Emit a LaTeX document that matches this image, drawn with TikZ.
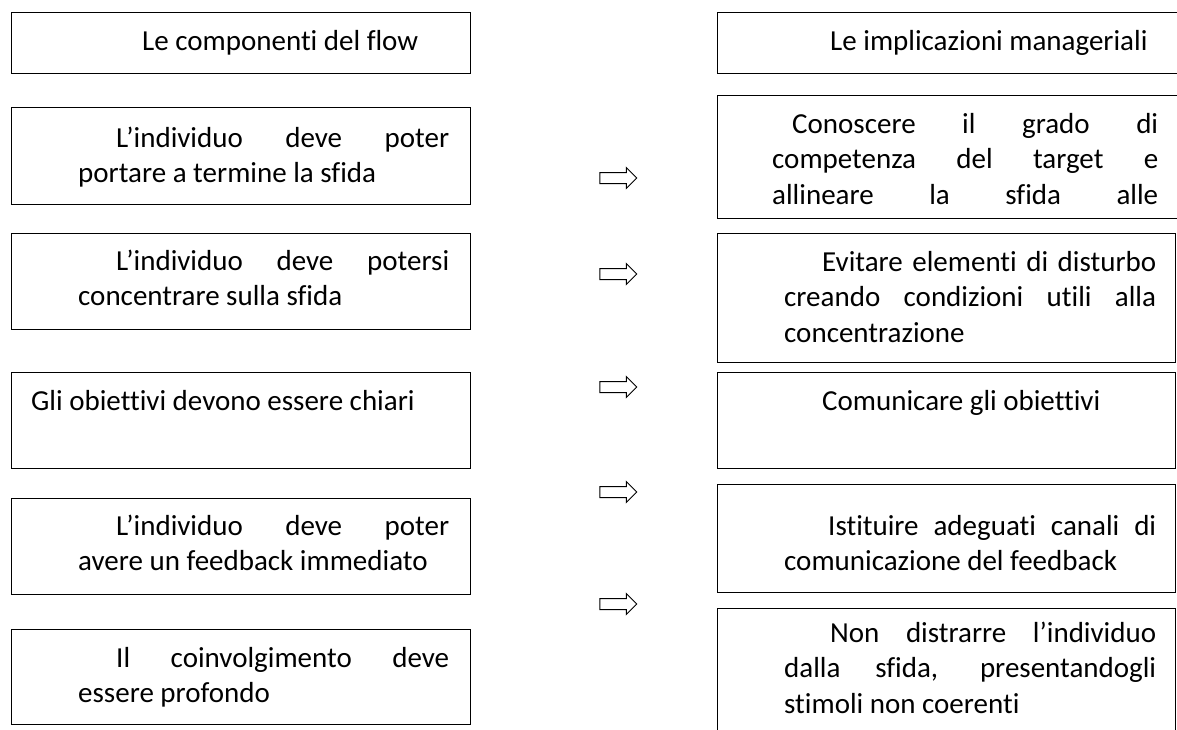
\documentclass[tikz,border=0pt]{standalone}
\usepackage{fontspec}
\setmainfont[Ligatures=NoCommon]{Carlito}
\usetikzlibrary{shapes.arrows}
\tolerance=10000
\hbadness=10000
\hyphenpenalty=10000

\tikzset{
  box/.style={draw, line width=1.4pt, anchor=north west, inner sep=0pt},
  txt/.style={anchor=base west, inner sep=0pt, text width=#1, align=justify,
    font=\fontsize{29}{35.5}\selectfont},
  arr/.style={single arrow, draw, line width=1pt, inner xsep=0pt, inner ysep=5pt,
    minimum height=37pt, single arrow head extend=5pt,
    single arrow tip angle=90}
}

\begin{document}
\begin{tikzpicture}[x=1pt,y=-1pt]
  \useasboundingbox (0,0) rectangle (1177,729);
  \clip (0,0) rectangle (1177,729);

  % le componenti del flow
  \node[box, minimum width=459pt, minimum height=61pt] (comp0) at (11,12) {};
  \node[box, minimum width=459pt, minimum height=97pt] (comp1) at (11,107) {};
  \node[box, minimum width=459pt, minimum height=96pt] (comp2) at (11,233) {};
  \node[box, minimum width=459pt, minimum height=96pt] (comp3) at (11,372) {};
  \node[box, minimum width=459pt, minimum height=96pt] (comp4) at (11,498) {};
  \node[box, minimum width=459pt, minimum height=95pt] (comp5) at (11,629) {};

  \node[txt=300pt] (comp0-t) at (142,50) {Le componenti del flow};
  \node[txt=371pt] (comp1-t) at (78,147) {\hspace*{38pt}L’individuo deve poter\linebreak portare a termine la sfida};
  \node[txt=371pt] (comp2-t) at (78,270) {\hspace*{38pt}L’individuo deve potersi\linebreak concentrare sulla sfida};
  \node[txt=430pt] (comp3-t) at (31,410) {Gli obiettivi devono essere chiari};
  \node[txt=371pt] (comp4-t) at (78,535) {\hspace*{38pt}L’individuo deve poter\linebreak avere un feedback immediato};
  \node[txt=371pt] (comp5-t) at (78,667) {\hspace*{38pt}Il coinvolgimento deve\linebreak essere profondo};

  % le implicazioni manageriali
  \node[box, minimum width=470pt, minimum height=61pt] (impl0) at (717,12) {};
  \node[box, minimum width=470pt, minimum height=123pt] (impl1) at (717,95) {};
  \node[box, minimum width=458pt, minimum height=129pt] (impl2) at (717,233) {};
  \node[box, minimum width=458pt, minimum height=96pt] (impl3) at (717,372) {};
  \node[box, minimum width=458pt, minimum height=108pt] (impl4) at (717,484) {};
  \node[box, minimum width=458pt, minimum height=140pt] (impl5) at (717,608) {};

  \node[txt=330pt] (impl0-t) at (830,50) {Le implicazioni manageriali};
  \node[txt=386pt] (impl1-t) at (772,133) {\hspace*{20pt}Conoscere il grado di\linebreak competenza del target e\linebreak allineare la sfida alle\linebreak};
  \node[txt=372pt] (impl2-t) at (784,271) {\hspace*{38pt}Evitare elementi di disturbo\linebreak creando condizioni utili alla\linebreak concentrazione};
  \node[txt=330pt] (impl3-t) at (822,410) {Comunicare gli obiettivi};
  \node[txt=372pt] (impl4-t) at (784,535) {\hspace*{44pt}Istituire adeguati canali di\linebreak comunicazione del feedback};
  \node[txt=372pt] (impl5-t) at (784,642) {\hspace*{46pt}Non distrarre l’individuo\linebreak dalla sfida, presentandogli\linebreak stimoli non coerenti};

  % frecce
  \node[arr] (arr1) at (615.5,178) {};
  \node[arr] (arr2) at (615.5,274) {};
  \node[arr] (arr3) at (615.5,387) {};
  \node[arr] (arr4) at (615.5,492) {};
  \node[arr] (arr5) at (615.5,604) {};
\end{tikzpicture}
\end{document}
